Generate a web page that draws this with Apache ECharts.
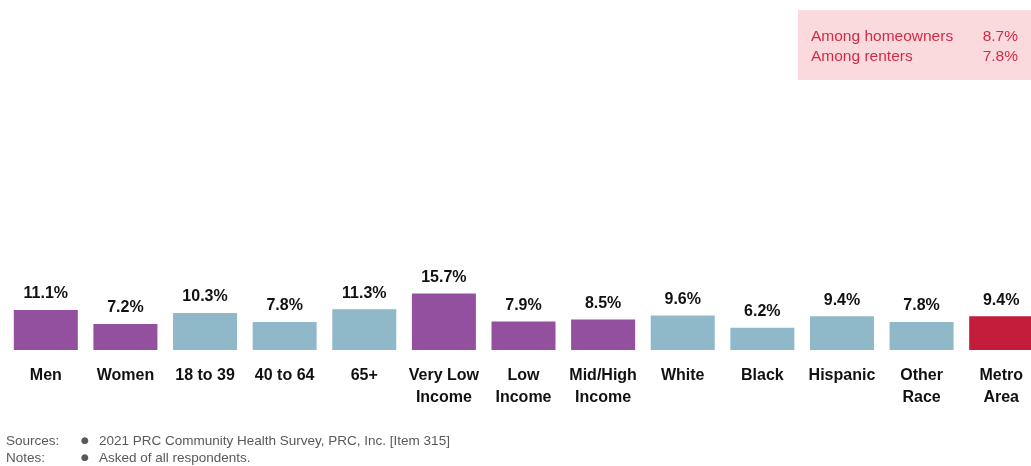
<!DOCTYPE html>
<html>
<head>
<meta charset="utf-8">
<script src="https://cdn.jsdelivr.net/npm/echarts@6/dist/echarts.min.js"></script>
<style>
	html, body { margin: 0; padding: 0; background: #fff; }
	#chart { width: 1031px; height: 466px; }
</style>
</head>
<body>
<div id="chart"></div>
<script>
var categories = ['Men', 'Women', '18 to 39', '40 to 64', '65+', 'Very Low\nIncome', 'Low\nIncome',
	'Mid/High\nIncome', 'White', 'Black', 'Hispanic', 'Other\nRace', 'Metro\nArea'];
var values = [11.1, 7.2, 10.3, 7.8, 11.3, 15.7, 7.9, 8.5, 9.6, 6.2, 9.4, 7.8, 9.4];
// which colour group each bar belongs to
var groups = ['p', 'p', 'b', 'b', 'b', 'p', 'p', 'p', 'b', 'b', 'b', 'b', 'r'];
var boxLabels = ['Among homeowners', 'Among renters'];
var boxValues = ['8.7%', '7.8%'];

var colors = { p: '#93509e', b: '#8fb9c9', r: '#c41c3b' };

function created() {
	var mainChart = echarts.init(document.getElementById('chart'));

	var barData = values.map(function (v, i) {
		return { value: v, itemStyle: { color: colors[groups[i]] } };
	});

	var boxText = [];
	for (var i = 0; i < boxLabels.length; i++) {
		boxText.push({
			type: 'text', left: 811, top: 29 + i * 20,
			style: { text: boxLabels[i], fill: '#d42a45', font: '15.5px "Liberation Sans", Arial, sans-serif' }
		});
		boxText.push({
			type: 'text', right: 13, top: 29 + i * 20,
			style: { text: boxValues[i], fill: '#d42a45', font: '15.5px "Liberation Sans", Arial, sans-serif' }
		});
	}

	var noteFont = '13.5px "Liberation Sans", Arial, sans-serif';
	var bulletFont = '9px "DejaVu Sans", sans-serif';
	var footnotes = [
		{ type: 'text', left: 6, top: 434, style: { text: 'Sources:', fill: '#595959', font: noteFont } },
		{ type: 'text', left: 81, top: 436, style: { text: '\u25CF', fill: '#595959', font: bulletFont } },
		{ type: 'text', left: 99, top: 434, style: { text: '2021 PRC Community Health Survey, PRC, Inc. [Item 315]', fill: '#595959', font: noteFont } },
		{ type: 'text', left: 6, top: 451, style: { text: 'Notes:', fill: '#595959', font: noteFont } },
		{ type: 'text', left: 81, top: 453, style: { text: '\u25CF', fill: '#595959', font: bulletFont } },
		{ type: 'text', left: 99, top: 451, style: { text: 'Asked of all respondents.', fill: '#595959', font: noteFont } }
	];

	mainChart.setOption({
		animation: false,
		grid: {
			left: 6,
			top: 278,
			width: 1035,
			height: 72,
			outerBoundsMode: 'none'
		},
		xAxis: {
			type: 'category',
			data: categories,
			axisLine: { show: false },
			axisTick: { show: false },
			axisLabel: {
				interval: 0,
				margin: 15,
				color: '#111',
				fontSize: 16,
				fontWeight: 'bold',
				fontFamily: '"Liberation Sans", Arial, sans-serif',
				lineHeight: 22,
				verticalAlign: 'top'
			}
		},
		yAxis: {
			type: 'value',
			min: 0,
			max: 20,
			show: false
		},
		series: [{
			type: 'bar',
			data: barData,
			barCategoryGap: '19.6%',
			label: {
				show: true,
				position: 'top',
				distance: 8,
				formatter: function (p) { return p.value.toFixed(1) + '%'; },
				color: '#111',
				fontSize: 16,
				fontWeight: 'bold',
				fontFamily: '"Liberation Sans", Arial, sans-serif'
			}
		}],
		graphic: [{
			type: 'rect',
			shape: { x: 798, y: 10, width: 240, height: 70 },
			style: { fill: '#fadadd' },
			z: 0
		}].concat(boxText, footnotes)
	});
}

created();
</script>
</body>
</html>
